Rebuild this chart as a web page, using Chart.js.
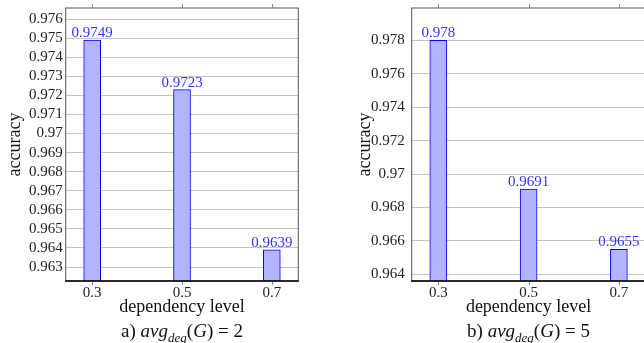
<!DOCTYPE html>
<html>
<head>
<meta charset="utf-8">
<script src="https://cdn.jsdelivr.net/npm/chart.js@4"></script>
<style>
  html, body { margin: 0; padding: 0; background: #fff; }
  body { width: 644px; height: 343px; overflow: hidden; position: relative; font-family: "Liberation Serif", serif; }
  .panel { position: absolute; top: 0; }
  .caption { position: absolute; top: 320px; font-size: 19px; color: #111; text-align: center; white-space: nowrap; }
  .caption sub { font-size: 13px; }
</style>
</head>
<body>
<canvas id="chartA" class="panel" width="330" height="343" style="left:0px"></canvas>
<canvas id="chartB" class="panel" width="330" height="343" style="left:330px"></canvas>
<div class="caption" style="left:66px;width:232px">a) <i>avg</i><sub><i>deg</i></sub>(<i>G</i>) = 2</div>
<div class="caption" style="left:412px;width:233px">b) <i>avg</i><sub><i>deg</i></sub>(<i>G</i>) = 5</div>
<script>
// dependency levels on the x axis
const levels = [0.3, 0.5, 0.7];

// a) avg_deg(G) = 2
const accuracyA = [0.9749, 0.9723, 0.9639];
const yTicksA = [0.963, 0.964, 0.965, 0.966, 0.967, 0.968, 0.969, 0.97, 0.971, 0.972, 0.973, 0.974, 0.975, 0.976];

// b) avg_deg(G) = 5
const accuracyB = [0.978, 0.9691, 0.9655];
const yTicksB = [0.964, 0.966, 0.968, 0.97, 0.972, 0.974, 0.976, 0.978];

const serif = "'Liberation Serif', 'Times New Roman', serif";

// frame, outer x ticks and value labels on top of the bars
const framePlugin = {
    id: "frame",
    afterDatasetsDraw(chart) {
        const ctx = chart.ctx;
        const meta = chart.getDatasetMeta(0);
        const values = chart.data.datasets[0].data;
        ctx.save();
        ctx.font = "15px " + serif;
        ctx.fillStyle = "#3333ff";
        ctx.textAlign = "center";
        ctx.textBaseline = "alphabetic";
        meta.data.forEach(function (bar, i) {
            ctx.fillText(String(values[i].y), bar.x, bar.y - 3);
        });
        ctx.restore();
    },
    afterDraw(chart) {
        const ctx = chart.ctx;
        const a = chart.chartArea;
        const xs = chart.scales.x;
        ctx.save();
        ctx.strokeStyle = "#555";
        ctx.lineWidth = 1;
        ctx.strokeRect(a.left, a.top, a.right - a.left, a.bottom - a.top);
        ctx.strokeStyle = "#888";
        levels.forEach(function (v) {
            const px = Math.round(xs.getPixelForValue(v)) + 0.5;
            ctx.beginPath();
            ctx.moveTo(px, a.top);
            ctx.lineTo(px, a.top - 4);
            ctx.moveTo(px, a.bottom);
            ctx.lineTo(px, a.bottom + 4);
            ctx.stroke();
        });
        ctx.strokeStyle = "#000";
        ctx.lineWidth = 1.5;
        ctx.beginPath();
        ctx.moveTo(a.left - 0.5, a.bottom);
        ctx.lineTo(a.right + 0.5, a.bottom);
        ctx.stroke();
        ctx.restore();
    }
};

function makeChart(canvasId, values, yTicks, yMin, yMax, yWidth, padRight, titlePad, tickPad) {
    const ctx = document.getElementById(canvasId).getContext("2d");
    return new Chart(ctx, {
        type: "bar",
        data: {
            datasets: [{
                data: levels.map(function (l, i) { return { x: l, y: values[i] }; }),
                backgroundColor: "#b3b3ff",
                borderColor: "#0000ff",
                borderWidth: 1,
                barThickness: 17
            }]
        },
        options: {
            responsive: false,
            animation: false,
            events: [],
            layout: { padding: { top: 8, right: padRight, bottom: 0, left: 0 } },
            plugins: {
                legend: { display: false },
                tooltip: { enabled: false }
            },
            scales: {
                x: {
                    type: "linear",
                    offset: false,
                    min: 0.241,
                    max: 0.759,
                    afterBuildTicks: function (scale) {
                        scale.ticks = levels.map(function (v) { return { value: v }; });
                    },
                    afterFit: function (scale) {
                        scale.height = 62;
                        scale.paddingLeft = 0;
                        scale.paddingRight = 0;
                    },
                    grid: { display: false, drawTicks: false, tickLength: 0 },
                    border: { display: false },
                    ticks: {
                        padding: 3,
                        autoSkip: false,
                        maxRotation: 0,
                        color: "#222",
                        font: { family: serif, size: 15 },
                        callback: function (v) { return String(v); }
                    },
                    title: {
                        display: true,
                        text: "dependency level",
                        color: "#111",
                        font: { family: serif, size: 18 },
                        padding: { top: 0, bottom: 25 }
                    }
                },
                y: {
                    min: yMin,
                    max: yMax,
                    afterBuildTicks: function (scale) {
                        scale.ticks = yTicks.map(function (v) { return { value: v }; });
                    },
                    afterFit: function (scale) {
                        scale.width = yWidth;
                        scale.paddingTop = 0;
                        scale.paddingBottom = 0;
                    },
                    grid: { color: "#c4c4c4", lineWidth: 1, drawTicks: false },
                    border: { display: false },
                    ticks: {
                        padding: tickPad,
                        autoSkip: false,
                        color: "#222",
                        font: { family: serif, size: 15 },
                        callback: function (v) { return String(Number(v.toFixed(3))); }
                    },
                    title: {
                        display: true,
                        text: "accuracy",
                        color: "#111",
                        font: { family: serif, size: 18 },
                        padding: { top: titlePad, bottom: 0 }
                    }
                }
            }
        },
        plugins: [framePlugin]
    });
}

makeChart("chartA", accuracyA, yTicksA, 0.96227, 0.97658, 65.7, 31.7, 4, 3);
makeChart("chartB", accuracyB, yTicksB, 0.9636, 0.97993, 81.7, 14.5, 24, 7);
</script>
</body>
</html>
